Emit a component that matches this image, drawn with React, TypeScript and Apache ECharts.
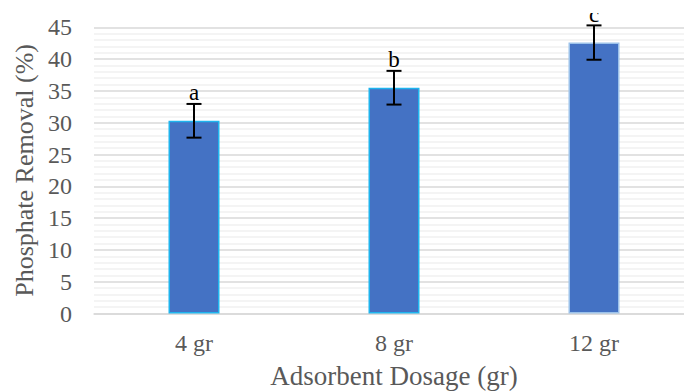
import React, { useEffect, useRef } from "react";
import * as echarts from "echarts";

const categories = ["4 gr", "8 gr", "12 gr"];
const removal = [30.3, 35.5, 42.6];
const errors = [2.65, 2.65, 2.7];
const letters = ["a", "b", "c"];
const borderColors = ["#1fb4ee", "#1fb4ee", "#9cc2ea"];
const yTicks = { min: 0, max: 45, interval: 5 };

const FONT = "Liberation Serif";

export default function App() {
  const ref = useRef<HTMLDivElement>(null);
  useEffect(() => {
    if (!ref.current) return;
    const chart = echarts.init(ref.current, undefined, { renderer: "svg" });
    chart.setOption({
      animation: false,
      backgroundColor: "#ffffff",
      grid: {
        left: 94,
        top: 27.3,
        width: 600,
        bottom: 78.5,
        containLabel: false,
        outerBoundsMode: "none",
      },
      xAxis: {
        type: "category",
        data: categories,
        name: "Adsorbent Dosage (gr)",
        nameLocation: "middle",
        nameGap: 50.5,
        nameTextStyle: { fontFamily: FONT, fontSize: 27, lineHeight: 23, color: "#595959" },
        axisLine: { show: true, lineStyle: { color: "#d9d9d9", width: 1.5 } },
        axisTick: { show: false },
        axisLabel: { fontFamily: FONT, fontSize: 24, color: "#595959", margin: 17 },
        splitLine: { show: false },
      },
      yAxis: {
        type: "value",
        min: yTicks.min,
        max: yTicks.max,
        interval: yTicks.interval,
        name: "Phosphate Removal (%)",
        nameLocation: "middle",
        nameGap: 55,
        nameTextStyle: { fontFamily: FONT, fontSize: 26, color: "#595959" },
        axisLine: { show: false },
        axisTick: { show: false },
        axisLabel: { fontFamily: FONT, fontSize: 24, color: "#595959", margin: 22 },
        splitLine: { show: true, lineStyle: { color: "#d9d9d9", width: 1.5 } },
        minorTick: { show: false, splitNumber: 5 },
        minorSplitLine: { show: true, lineStyle: { color: "#f0f0f0", width: 1.5 } },
      },
      series: [
        {
          type: "bar",
          data: removal.map((v, i) => ({
            value: v,
            itemStyle: { color: "#4472c4", borderColor: borderColors[i], borderWidth: 1.5 },
          })),
          barWidth: 51,
          z: 2,
        },
        {
          type: "custom",
          z: 5,
          data: removal.map((v, i) => [i, v, errors[i]]),
          encode: { x: 0, y: 1 },
          renderItem: (params: any, api: any) => {
            const i = api.value(0);
            const v = api.value(1);
            const e = api.value(2);
            const top = api.coord([i, v + e]);
            const bot = api.coord([i, v - e]);
            const hw = 7.5;
            const ls = { stroke: "#000000", lineWidth: 2 };
            return {
              type: "group",
              children: [
                { type: "line", shape: { x1: top[0], y1: top[1], x2: bot[0], y2: bot[1] }, style: ls },
                { type: "line", shape: { x1: top[0] - hw, y1: top[1], x2: top[0] + hw, y2: top[1] }, style: ls },
                { type: "line", shape: { x1: bot[0] - hw, y1: bot[1], x2: bot[0] + hw, y2: bot[1] }, style: ls },
                {
                  type: "text",
                  x: top[0],
                  y: top[1] + 0.5,
                  style: {
                    text: letters[params.dataIndex],
                    fontFamily: FONT,
                    fontSize: 23,
                    fill: "#000000",
                    align: "center",
                    verticalAlign: "bottom",
                  },
                },
              ],
            };
          },
        },
      ],
      graphic: [
        { type: "rect", left: 0, top: 0, shape: { width: 684, height: 13 }, style: { fill: "#ffffff" }, z: 100 },
      ],
    });
    return () => chart.dispose();
  }, []);
  return (
    <div
      ref={ref}
      style={{ position: "fixed", left: 0, top: 0, width: 684, height: 392 }}
    />
  );
}
